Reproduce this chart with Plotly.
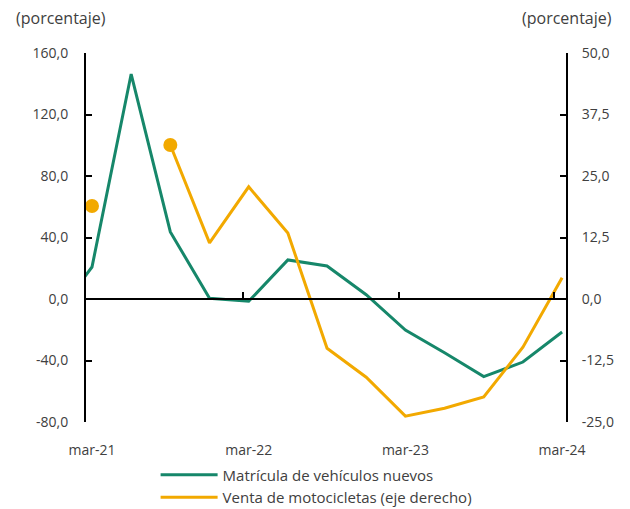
import plotly.graph_objects as go

# trimestres (dic-20 queda fuera del rango visible, la linea se corta en el eje)
trimestres = ['dic-20', 'mar-21', 'jun-21', 'sep-21', 'dic-21', 'mar-22', 'jun-22',
              'sep-22', 'dic-22', 'mar-23', 'jun-23', 'sep-23', 'dic-23', 'mar-24']
etiquetas_x = ['mar-21', 'mar-22', 'mar-23', 'mar-24']

matricula = [-13.0, 20.8, 146.3, 43.6, 0.5, -1.5, 25.4, 21.5, 2.8, -20.2, -35.0, -50.5, -41.0, -21.5]
motos = [None, 18.9, None, 31.3, 11.4, 22.8, 13.4, -10.0, -15.9, -23.8, -22.2, -19.9, -9.8, 4.3]

ticks_izq = [-80, -40, 0, 40, 80, 120, 160]
ticks_der = [-25, -12.5, 0, 12.5, 25, 37.5, 50]

VERDE = '#16876A'
NARANJA = '#F2A900'
GRIS = '#404040'


def fmt(v):
    return f'{v:.1f}'.replace('.', ',')


# puntos de motos sin dato anterior -> se ven como punto
pts_x = [t for i, t in enumerate(trimestres) if motos[i] is not None and (i == 0 or motos[i - 1] is None)]
pts_y = [v for i, v in enumerate(motos) if v is not None and (i == 0 or motos[i - 1] is None)]

fig = go.Figure()
fig.add_trace(go.Scatter(x=trimestres, y=matricula, mode='lines', name='Matrícula de vehículos nuevos',
                         line=dict(color=VERDE, width=3)))
fig.add_trace(go.Scatter(x=trimestres, y=motos, mode='lines', name='Venta de motocicletas (eje derecho)',
                         line=dict(color=NARANJA, width=3), yaxis='y2', connectgaps=False))
fig.add_trace(go.Scatter(x=pts_x, y=pts_y, mode='markers', showlegend=False, yaxis='y2',
                         marker=dict(color=NARANJA, size=14), cliponaxis=False))
# traza vacia para que se dibuje el eje x en cero
fig.add_trace(go.Scatter(x=[None], y=[None], xaxis='x2', showlegend=False, hoverinfo='skip'))

rango_x = [0.847, 13.1]

fig.update_layout(
    width=630, height=509,
    # el body de la pagina suma ~8px arriba y a la izquierda
    margin=dict(l=78, r=72, t=45, b=95, autoexpand=False),
    paper_bgcolor='white', plot_bgcolor='white',
    font=dict(family='Open Sans', size=14, color=GRIS),
    separators=',.',
    showlegend=True,
    legend=dict(x=0.145, y=-0.099, xanchor='left', yanchor='top', orientation='v',
                font=dict(size=15, color=GRIS), bgcolor='rgba(0,0,0,0)', tracegroupgap=0,
                itemwidth=57),
    xaxis=dict(type='category', categoryorder='array', categoryarray=trimestres,
               range=rango_x, tickvals=etiquetas_x, ticktext=etiquetas_x, automargin=False,
               showline=False, ticks='', showgrid=False, zeroline=False, ticklabelstandoff=18),
    xaxis2=dict(overlaying='x', anchor='free', position=1/3, range=rango_x, type='linear',
                showline=True, linecolor='black', linewidth=2, automargin=False,
                ticks='inside', ticklen=6, tickwidth=2, tickcolor='black',
                tickvals=[0.85, 4.85, 8.83, 12.8], showticklabels=False,
                showgrid=False, zeroline=False),
    yaxis=dict(range=[-80, 160], tickvals=ticks_izq, ticktext=[fmt(v) for v in ticks_izq],
               showline=True, linecolor='black', linewidth=2, automargin=False,
               ticks='inside', ticklen=6, tickwidth=2, tickcolor='black',
               showgrid=False, zeroline=False, ticklabelstandoff=13),
    yaxis2=dict(range=[-25, 50], tickvals=ticks_der, ticktext=[fmt(v) for v in ticks_der],
                overlaying='y', side='right', automargin=False,
                showline=True, linecolor='black', linewidth=2,
                ticks='inside', ticklen=6, tickwidth=2, tickcolor='black',
                showgrid=False, zeroline=False, ticklabelstandoff=11),
    annotations=[
        dict(text='(porcentaje)', xref='paper', yref='paper', x=-0.15, y=1.095,
             xanchor='left', yanchor='middle', showarrow=False, font=dict(size=16, color=GRIS)),
        dict(text='(porcentaje)', xref='paper', yref='paper', x=1.1, y=1.095,
             xanchor='right', yanchor='middle', showarrow=False, font=dict(size=16, color=GRIS)),
    ],
)

fig.write_html('out.html')
